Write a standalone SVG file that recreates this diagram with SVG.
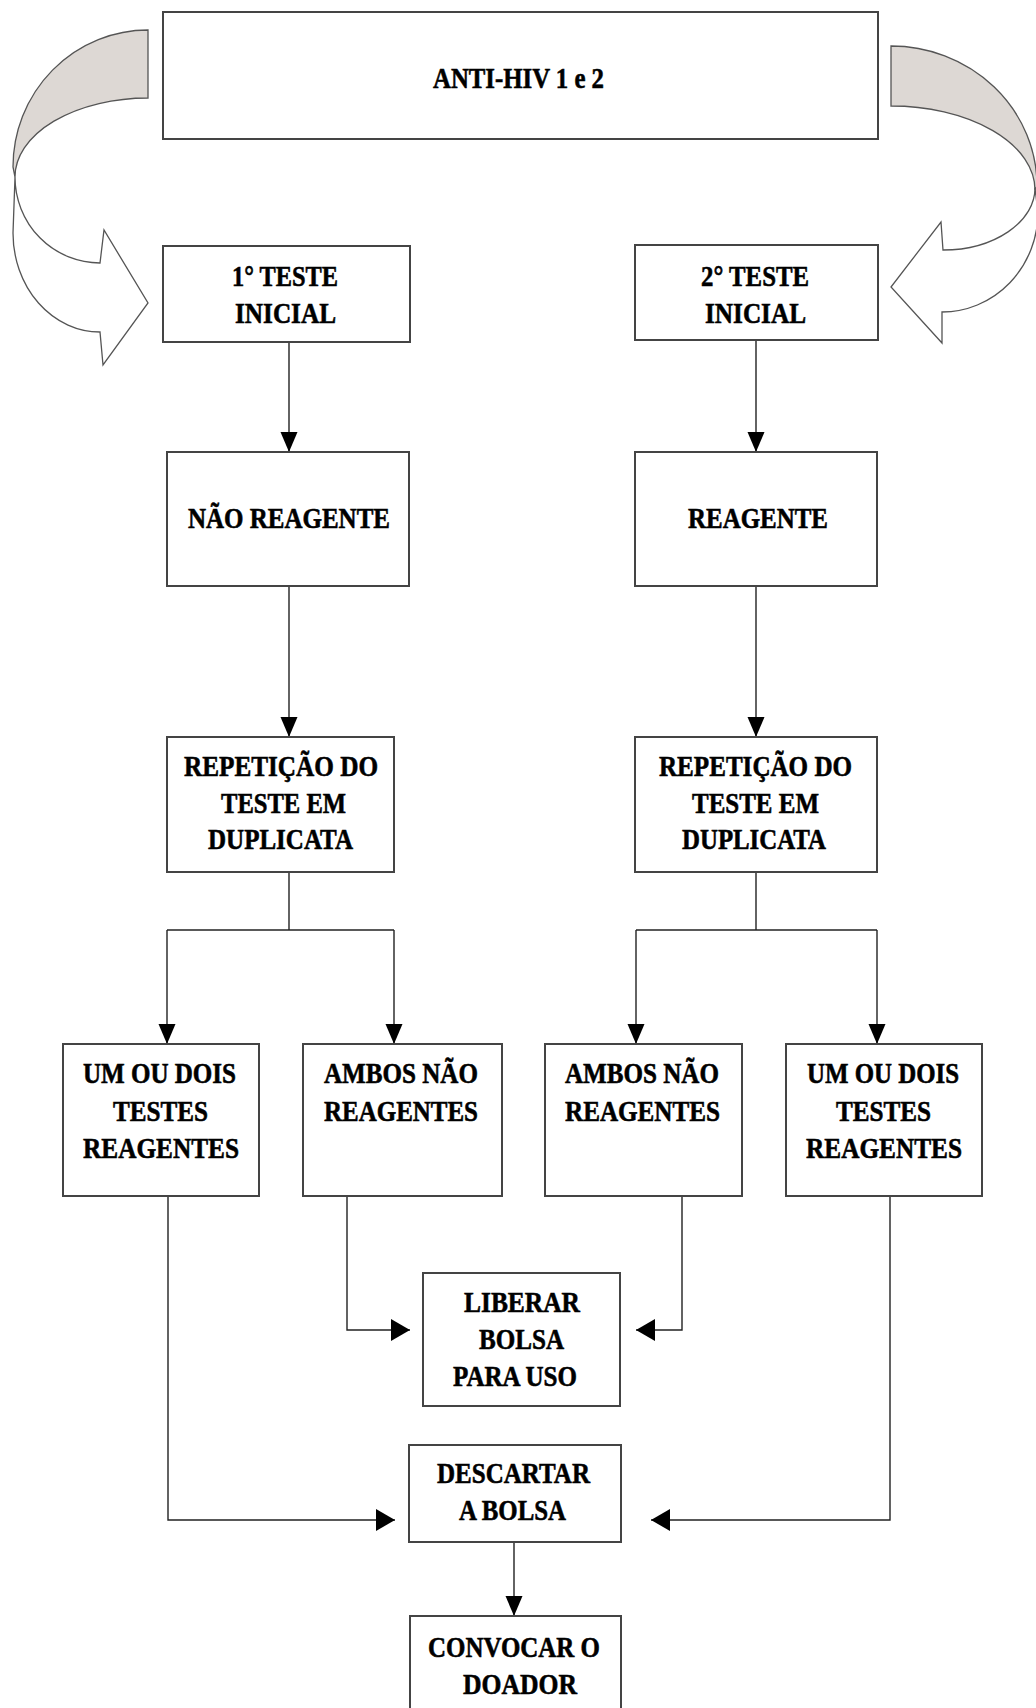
<svg xmlns="http://www.w3.org/2000/svg" width="1036" height="1708" viewBox="0 0 1036 1708">
<style>
.box{fill:#fff;stroke:#444;stroke-width:2}
.lbl{font-family:"Liberation Serif","Times New Roman",serif;font-weight:bold;font-size:30px;fill:#000;stroke:#000;stroke-width:0.6}
.con{fill:none;stroke:#222;stroke-width:1.4}
.band{fill:#ddd8d4;stroke:#555;stroke-width:1.3}
.body{fill:#fff;stroke:#555;stroke-width:1.3}
</style>
<defs>
<marker id="arrV" markerUnits="userSpaceOnUse" markerWidth="20" markerHeight="20" refX="20" refY="8.5" orient="auto" viewBox="0 0 20 17"><path d="M0,0 L20,8.5 L0,17 Z" fill="#000"/></marker>
<marker id="arrH" markerUnits="userSpaceOnUse" markerWidth="20" markerHeight="22" refX="19" refY="11" orient="auto" viewBox="0 0 19 22"><path d="M0,0 L19,11 L0,22 Z" fill="#000"/></marker>
</defs>
<rect width="1036" height="1708" fill="#fff"/>

<g id="curved-arrow-left">
<path class="band" d="M148,30 A135 137 0 0 0 13,167 L15,177 A133 79 0 0 1 148,98 Z"/>
<path class="body" d="M15,177 A85 86 0 0 0 100,263 L104,230 L148,303 L103,365 L100,332 A87 99 0 0 1 13,233 Z"/>
</g>
<g id="curved-arrow-right">
<path class="band" d="M891,46 A146 140 0 0 1 1037,186 L1035,190 A144 84 0 0 0 891,106 Z"/>
<path class="body" d="M1035,188 A92 62 0 0 1 943,250 L941,222 L891,287 L942,343 L942,312 A96 100 0 0 0 1038,212 Z"/>
</g>

<g id="connectors">
<path class="con" d="M289,342 V452" marker-end="url(#arrV)"/>
<path class="con" d="M756,340 V452" marker-end="url(#arrV)"/>
<path class="con" d="M289,586 V737" marker-end="url(#arrV)"/>
<path class="con" d="M756,586 V737" marker-end="url(#arrV)"/>
<path class="con" d="M289,872 V930"/>
<path class="con" d="M167,930 H394"/>
<path class="con" d="M167,930 V1044" marker-end="url(#arrV)"/>
<path class="con" d="M394,930 V1044" marker-end="url(#arrV)"/>
<path class="con" d="M756,872 V930"/>
<path class="con" d="M636,930 H877"/>
<path class="con" d="M636,930 V1044" marker-end="url(#arrV)"/>
<path class="con" d="M877,930 V1044" marker-end="url(#arrV)"/>
<path class="con" d="M347,1196 V1330 H410" marker-end="url(#arrH)"/>
<path class="con" d="M682,1196 V1330 H636" marker-end="url(#arrH)"/>
<path class="con" d="M168,1196 V1520 H395" marker-end="url(#arrH)"/>
<path class="con" d="M890,1196 V1520 H651" marker-end="url(#arrH)"/>
<path class="con" d="M514,1542 V1616" marker-end="url(#arrV)"/>
</g>

<g id="n-anti-hiv">
<rect class="box" x="163" y="12" width="715" height="127"/>
<text class="lbl" x="433" y="88" textLength="171" lengthAdjust="spacingAndGlyphs">ANTI-HIV 1 e 2</text>
</g>
<g id="n-teste1">
<rect class="box" x="163" y="246" width="247" height="96"/>
<text class="lbl" x="232" y="286" textLength="106" lengthAdjust="spacingAndGlyphs">1° TESTE</text>
<text class="lbl" x="235" y="323" textLength="101" lengthAdjust="spacingAndGlyphs">INICIAL</text>
</g>
<g id="n-teste2">
<rect class="box" x="635" y="245" width="243" height="95"/>
<text class="lbl" x="701" y="286" textLength="108" lengthAdjust="spacingAndGlyphs">2° TESTE</text>
<text class="lbl" x="705" y="323" textLength="101" lengthAdjust="spacingAndGlyphs">INICIAL</text>
</g>
<g id="n-nao-reagente">
<rect class="box" x="167" y="452" width="242" height="134"/>
<text class="lbl" x="188" y="528" textLength="202" lengthAdjust="spacingAndGlyphs">NÃO REAGENTE</text>
</g>
<g id="n-reagente">
<rect class="box" x="635" y="452" width="242" height="134"/>
<text class="lbl" x="688" y="528" textLength="140" lengthAdjust="spacingAndGlyphs">REAGENTE</text>
</g>
<g id="n-repeticao-left">
<rect class="box" x="167" y="737" width="227" height="135"/>
<text class="lbl" x="184" y="776" textLength="194" lengthAdjust="spacingAndGlyphs">REPETIÇÃO DO</text>
<text class="lbl" x="221" y="813" textLength="125" lengthAdjust="spacingAndGlyphs">TESTE EM</text>
<text class="lbl" x="208" y="849" textLength="145" lengthAdjust="spacingAndGlyphs">DUPLICATA</text>
</g>
<g id="n-repeticao-right">
<rect class="box" x="635" y="737" width="242" height="135"/>
<text class="lbl" x="659" y="776" textLength="193" lengthAdjust="spacingAndGlyphs">REPETIÇÃO DO</text>
<text class="lbl" x="692" y="813" textLength="127" lengthAdjust="spacingAndGlyphs">TESTE EM</text>
<text class="lbl" x="682" y="849" textLength="144" lengthAdjust="spacingAndGlyphs">DUPLICATA</text>
</g>
<g id="n-um-dois-left">
<rect class="box" x="63" y="1044" width="196" height="152"/>
<text class="lbl" x="83" y="1083" textLength="153" lengthAdjust="spacingAndGlyphs">UM OU DOIS</text>
<text class="lbl" x="113" y="1121" textLength="95" lengthAdjust="spacingAndGlyphs">TESTES</text>
<text class="lbl" x="83" y="1158" textLength="156" lengthAdjust="spacingAndGlyphs">REAGENTES</text>
</g>
<g id="n-ambos-left">
<rect class="box" x="303" y="1044" width="199" height="152"/>
<text class="lbl" x="324" y="1083" textLength="154" lengthAdjust="spacingAndGlyphs">AMBOS NÃO</text>
<text class="lbl" x="324" y="1121" textLength="154" lengthAdjust="spacingAndGlyphs">REAGENTES</text>
</g>
<g id="n-ambos-right">
<rect class="box" x="545" y="1044" width="197" height="152"/>
<text class="lbl" x="565" y="1083" textLength="154" lengthAdjust="spacingAndGlyphs">AMBOS NÃO</text>
<text class="lbl" x="565" y="1121" textLength="155" lengthAdjust="spacingAndGlyphs">REAGENTES</text>
</g>
<g id="n-um-dois-right">
<rect class="box" x="786" y="1044" width="196" height="152"/>
<text class="lbl" x="807" y="1083" textLength="152" lengthAdjust="spacingAndGlyphs">UM OU DOIS</text>
<text class="lbl" x="836" y="1121" textLength="95" lengthAdjust="spacingAndGlyphs">TESTES</text>
<text class="lbl" x="806" y="1158" textLength="156" lengthAdjust="spacingAndGlyphs">REAGENTES</text>
</g>
<g id="n-liberar">
<rect class="box" x="423" y="1273" width="197" height="133"/>
<text class="lbl" x="464" y="1312" textLength="116" lengthAdjust="spacingAndGlyphs">LIBERAR</text>
<text class="lbl" x="479" y="1349" textLength="85" lengthAdjust="spacingAndGlyphs">BOLSA</text>
<text class="lbl" x="453" y="1386" textLength="124" lengthAdjust="spacingAndGlyphs">PARA USO</text>
</g>
<g id="n-descartar">
<rect class="box" x="409" y="1445" width="212" height="97"/>
<text class="lbl" x="437" y="1483" textLength="153" lengthAdjust="spacingAndGlyphs">DESCARTAR</text>
<text class="lbl" x="459" y="1520" textLength="107" lengthAdjust="spacingAndGlyphs">A BOLSA</text>
</g>
<g id="n-convocar">
<path class="box" d="M410,1708 V1616 H621 V1708"/>
<text class="lbl" x="428" y="1657" textLength="172" lengthAdjust="spacingAndGlyphs">CONVOCAR O</text>
<text class="lbl" x="463" y="1694" textLength="114" lengthAdjust="spacingAndGlyphs">DOADOR</text>
</g>
</svg>
